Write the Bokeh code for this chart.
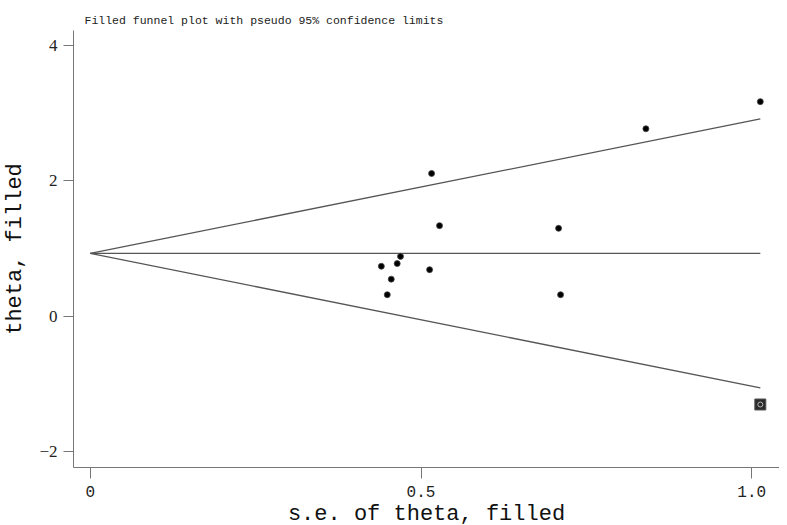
from bokeh.plotting import figure
from bokeh.models import FixedTicker, Range1d, Title
from bokeh.embed import file_html
from bokeh.resources import INLINE

# observed studies (standard error, effect)
se = [0.440, 0.449, 0.455, 0.464, 0.469, 0.513, 0.516, 0.528, 0.708, 0.711, 0.84, 1.013]
theta = [0.74, 0.32, 0.55, 0.78, 0.886, 0.69, 2.11, 1.34, 1.30, 0.32, 2.77, 3.17]
# imputed (filled) study
filled_se = [1.013]
filled_theta = [-1.30]
# pooled estimate
pooled = 0.93
x_ticks = [0, 0.5, 1.0]
x_tick_labels = {0: "0", 0.5: "0.5", 1: "1.0"}
y_ticks = [-2, 0, 2, 4]
y_tick_labels = {-2: "\u22122", 0: "0", 2: "2", 4: "4"}
x_title = "s.e. of theta, filled"
y_title = "theta, filled"

se_max = max(se + filled_se)
fun_x = [0, se_max]
upper = [pooled + 1.96 * s for s in fun_x]
lower = [pooled - 1.96 * s for s in fun_x]
mid = [pooled for s in fun_x]

p = figure(width=779, height=526, output_backend="svg", toolbar_location=None,
           x_range=Range1d(-0.0254, 1.042), y_range=Range1d(-2.23, 4.22),
           min_border_left=66, min_border_right=0, min_border_top=30, min_border_bottom=59)
p.title.text = "Filled funnel plot with pseudo 95% confidence limits"
p.title.text_font = "Liberation Mono"
p.title.text_font_size = "11.5px"
p.title.text_font_style = "normal"
p.title.text_color = "#222222"
p.title.align = "left"
p.title.offset = 11
p.title.standoff = 8

p.outline_line_color = None
p.xgrid.visible = False
p.ygrid.visible = False
p.background_fill_color = "white"
p.border_fill_color = "white"

line_col = "#555555"
p.line(fun_x, upper, line_color=line_col, line_width=1.3)
p.line(fun_x, lower, line_color=line_col, line_width=1.3)
p.line(fun_x, mid, line_color=line_col, line_width=1.3)

p.scatter(se, theta, marker="circle", size=6, fill_color="black", line_color="#444444", line_width=0.8)
p.scatter(filled_se, filled_theta, marker="square", size=11, fill_color="#2b2b2b", line_color="#555555")
p.scatter(filled_se, filled_theta, marker="circle", size=5, fill_color="#2b2b2b", line_color="#bbbbbb", line_width=1)

ax_col = "#777777"
for ax in (p.xaxis[0], p.yaxis[0]):
    ax.axis_line_color = ax_col
    ax.major_tick_line_color = ax_col
    ax.minor_tick_line_color = None
    ax.major_tick_in = 0
    ax.major_label_text_color = "#222222"
    ax.axis_label_text_color = "#111111"
    ax.axis_label_text_font = "Liberation Mono"
    ax.axis_label_text_font_size = "22px"
    ax.axis_label_text_font_style = "normal"

p.xaxis.ticker = FixedTicker(ticks=x_ticks)
p.xaxis.major_label_overrides = x_tick_labels
p.xaxis.major_tick_out = 11
p.xaxis.major_label_standoff = 7
p.xaxis.major_label_text_font = "Liberation Mono"
p.xaxis.major_label_text_font_size = "16px"

# x-axis title as a title in the panel below the axis
p.add_layout(Title(text=x_title, align="center", standoff=0,
                   text_font="Liberation Mono", text_font_size="22px",
                   text_font_style="normal", text_color="#111111"), "below")

p.yaxis.ticker = FixedTicker(ticks=y_ticks)
p.yaxis.major_label_overrides = y_tick_labels
p.yaxis.major_tick_out = 10
p.yaxis.major_label_standoff = 6
p.yaxis.major_label_text_font = "Liberation Serif"
p.yaxis.major_label_text_font_size = "17px"
p.yaxis.major_label_orientation = "horizontal"
p.yaxis.axis_label = y_title
p.yaxis.axis_label_standoff = 8

open("out.html", "w").write(file_html(p, INLINE))
